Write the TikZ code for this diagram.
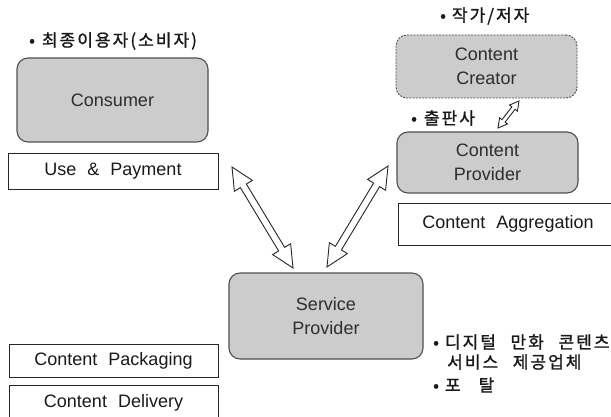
\documentclass[tikz,border=0pt]{standalone}
\usepackage{fontspec}
\setmainfont{Liberation Sans}
\newfontfamily\boxfont[WordSpace=2.2]{Liberation Sans}
\newfontfamily\kr[LetterSpace=12,FakeBold=1.2,WordSpace=2.5]{Noto Sans CJK KR}
\usetikzlibrary{calc}
\definecolor{boxgray}{RGB}{204,204,204}
\definecolor{edgegray}{RGB}{80,80,80}
\definecolor{txtgray}{RGB}{45,45,45}
\tikzset{
  roleBox/.style={draw=edgegray, line width=1.1pt, fill=boxgray, rounded corners=11pt,
    align=center, inner sep=0pt, text=txtgray,
    font=\fontsize{18pt}{24pt}\selectfont},
  taskBox/.style={draw=black!85, line width=0.9pt, fill=white, inner sep=0pt,
    font=\boxfont\fontsize{18pt}{22pt}\selectfont, text=black!90},
  krLabel/.style={anchor=west, inner sep=0pt, text=black!90,
    font=\kr\fontsize{17pt}{20pt}\selectfont},
  hollowArrow/.style={draw=black!85, line width=0.9pt, fill=white, line join=miter}
}
\newcommand\dblarr[6]{% #1 name prefix, #2 tip a, #3 tip b, #4 head length, #5 head half width, #6 shaft half width
  \coordinate (#1pa) at ($(#2)!#4!(#3)$);
  \coordinate (#1pb) at ($(#3)!#4!(#2)$);
  \draw[hollowArrow] (#2)
    -- ($(#1pa)!#5!90:(#3)$) -- ($(#1pa)!#6!90:(#3)$)
    -- ($(#1pb)!#6!-90:(#2)$) -- ($(#1pb)!#5!-90:(#2)$)
    -- (#3)
    -- ($(#1pb)!#5!90:(#2)$) -- ($(#1pb)!#6!90:(#2)$)
    -- ($(#1pa)!#6!-90:(#3)$) -- ($(#1pa)!#5!-90:(#3)$)
    -- cycle;}
\begin{document}
\begin{tikzpicture}[x=1pt,y=-1pt]
\useasboundingbox (0,0) rectangle (611,417);
\fill[white] (0,0) rectangle (611,417);
\clip (0,0) rectangle (611,417);

% role boxes
\node[roleBox, minimum width=191pt, minimum height=84pt] (consumer) at (112.5,100) {Consumer};
\node[roleBox, dashed, dash pattern=on 2pt off 1.2pt, line width=0.9pt, minimum width=181pt, minimum height=63pt] (creator) at (486.5,66.5) {Content\\Creator};
\node[roleBox, minimum width=181pt, minimum height=61pt] (cprovider) at (487.5,162.5) {Content\\Provider};
\node[roleBox, minimum width=194pt, minimum height=86pt] (sprovider) at (326,316) {Service\\Provider};

% task boxes
\node[taskBox, minimum width=210pt, minimum height=36pt] (usepay) at (113,171) {Use \& Payment};
\node[taskBox, minimum width=220pt, minimum height=42pt] (aggr) at (508,224) {Content Aggregation};
\node[taskBox, minimum width=209pt, minimum height=33pt] (pack) at (113.5,360.5) {Content Packaging};
\node[taskBox, minimum width=209pt, minimum height=35pt] (deliv) at (113.5,402.5) {Content Delivery};

% Korean labels
\node[krLabel] (lconsumer) at (29,41) {•\hspace{7pt}최종이용자(소비자)};
\node[krLabel] (lcreator) at (440,16) {•\hspace{6pt}작가/저자};
\node[krLabel] (lpublisher) at (411,118) {•\hspace{7pt}출판사};
\node[krLabel] (lservice1) at (433,342) {•\hspace{6pt}디지털 만화 콘텐츠};
\node[krLabel] (lservice2) at (447,362) {서비스 제공업체};
\node[krLabel] (lportal) at (433,385) {•\hspace{6pt}포\hspace{18pt}탈};

% arrows
\coordinate (la) at (232,167);
\coordinate (lb) at (293,268);
\coordinate (ra) at (388,166);
\coordinate (rb) at (327,267);
\coordinate (sa) at (498,128);
\coordinate (sb) at (519,101);
\dblarr{L}{la}{lb}{22pt}{10.5pt}{3.5pt}
\dblarr{R}{ra}{rb}{22pt}{10.5pt}{3.5pt}
\dblarr{S}{sa}{sb}{9pt}{5pt}{2pt}
\end{tikzpicture}
\end{document}
